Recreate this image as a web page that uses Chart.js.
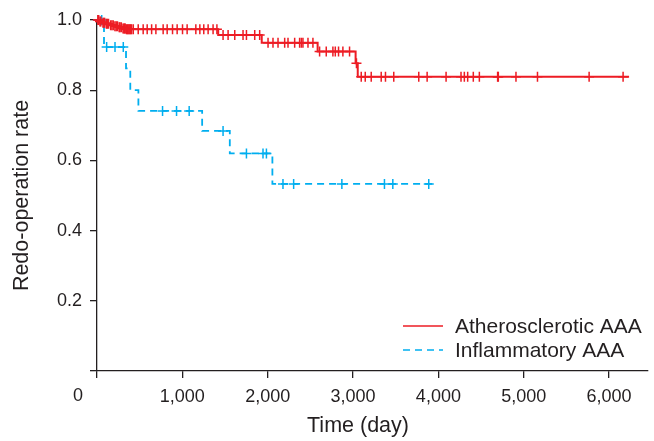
<!DOCTYPE html>
<html>
<head>
<meta charset="utf-8">
<script src="https://cdn.jsdelivr.net/npm/chart.js@4.4.1/dist/chart.umd.min.js"></script>
<style>
  html, body { margin: 0; padding: 0; background: #fff; }
</style>
</head>
<body>
<canvas id="km" width="654" height="441"></canvas>
<script>
// axis ticks
const xTicks = [0, 1000, 2000, 3000, 4000, 5000, 6000];
const yTicks = [0, 0.2, 0.4, 0.6, 0.8, 1.0];
const xTitle = 'Time (day)';
const yTitle = 'Redo-operation rate';

// Atherosclerotic AAA - step times (day) and survival after each step
const athDays = [0, 25, 60, 100, 150, 200, 250, 300, 340, 1420, 1930, 2585, 3030, 3055, 6234];
const athSurv = [1, 0.996, 0.992, 0.989, 0.985, 0.982, 0.979, 0.976, 0.974, 0.957, 0.935, 0.910, 0.877, 0.838, 0.838];
const athCensored = [
  10, 20, 35, 45, 70, 80, 90, 110, 120, 135, 160, 175, 190, 210, 225, 240, 260, 270, 285,
  305, 315, 325, 330, 345, 355, 365, 375, 385, 395, 405,
  425, 483, 541, 588, 640, 690, 775, 822, 885, 939, 1002, 1056, 1158, 1205, 1251, 1302, 1360, 1405,
  1477, 1536, 1614, 1711, 1751, 1848, 1906,
  2004, 2062, 2121, 2199, 2238, 2316, 2374, 2394, 2413, 2472, 2530,
  2608, 2686, 2764, 2792, 2830, 2881, 2959,
  3040,
  3096, 3143, 3213, 3330, 3380, 3477, 3770, 3868, 4090, 4265, 4304, 4343, 4409, 4480,
  4694, 4702, 4909, 5161, 5766, 6164
];

// Inflammatory AAA
const infDays = [0, 82, 340, 390, 485, 1232, 1556, 2055, 3973];
const infSurv = [1, 0.923, 0.862, 0.800, 0.741, 0.684, 0.620, 0.533, 0.533];
const infCensored = [15, 55, 113, 211, 308, 768, 932, 1080, 1477, 1751, 1945, 1985, 2179, 2304, 2869, 3368, 3466, 3887];

const red = '#ed1c24';
const blue = '#00aeef';
const ink = '#231f20';
const fontFamily = '"Liberation Sans", Arial, Helvetica, sans-serif';

function survAt(days, surv, t) {
  let s = surv[0];
  for (let i = 0; i < days.length; i++) {
    if (days[i] <= t) s = surv[i];
  }
  return s;
}

function steps(days, surv) {
  return days.map((d, i) => ({ x: d, y: surv[i] }));
}

function marks(cens, days, surv) {
  return cens.map(t => ({ x: t, y: survAt(days, surv, t) }));
}

// legend, x title and the shared "0" at the corner
const extras = {
  id: 'extras',
  afterDraw(chart) {
    const ctx = chart.ctx;
    const xs = chart.scales.x;
    ctx.save();
    ctx.fillStyle = ink;
    ctx.font = '18px ' + fontFamily;
    ctx.textAlign = 'center';
    ctx.textBaseline = 'middle';
    ctx.fillText('0', xs.left - 19, xs.top + 25);

    ctx.font = '21.5px ' + fontFamily;
    ctx.fillText(xTitle, 358, 426);

    const rows = [
      { label: chart.data.datasets[0].label, color: red, dash: [] },
      { label: chart.data.datasets[2].label, color: blue, dash: [7, 5] }
    ];
    ctx.font = '21px ' + fontFamily;
    ctx.textAlign = 'left';
    rows.forEach((r, i) => {
      const yy = 326 + i * 24;
      ctx.beginPath();
      ctx.setLineDash(r.dash);
      ctx.strokeStyle = r.color;
      ctx.lineWidth = 1.6;
      ctx.moveTo(403, yy);
      ctx.lineTo(443, yy);
      ctx.stroke();
      ctx.setLineDash([]);
      ctx.fillStyle = ink;
      ctx.fillText(r.label, 455, yy + 1);
    });
    ctx.restore();
  }
};

new Chart(document.getElementById('km'), {
  type: 'line',
  data: {
    datasets: [
      {
        label: 'Atherosclerotic AAA',
        data: steps(athDays, athSurv),
        borderColor: red,
        borderWidth: 2,
        stepped: true,
        pointRadius: 0,
        fill: false,
        clip: false
      },
      {
        label: 'athCensored',
        data: marks(athCensored, athDays, athSurv),
        showLine: false,
        pointStyle: 'cross',
        pointRadius: 5,
        pointBorderWidth: 1.5,
        borderColor: red,
        clip: false
      },
      {
        label: 'Inflammatory AAA',
        data: steps(infDays, infSurv),
        borderColor: blue,
        borderWidth: 1.8,
        borderDash: [7, 5],
        stepped: true,
        pointRadius: 0,
        fill: false,
        clip: false
      },
      {
        label: 'infCensored',
        data: marks(infCensored, infDays, infSurv),
        showLine: false,
        pointStyle: 'cross',
        pointRadius: 5,
        pointBorderWidth: 1.5,
        borderColor: blue,
        clip: false
      }
    ]
  },
  options: {
    responsive: false,
    animation: false,
    devicePixelRatio: 1,
    layout: { padding: { left: 0, top: 20, right: 5.5, bottom: 0 } },
    plugins: {
      legend: { display: false },
      tooltip: { enabled: false }
    },
    scales: {
      x: {
        type: 'linear',
        min: 0,
        max: 6450,
        afterBuildTicks: s => { s.ticks = xTicks.map(v => ({ value: v })); },
        afterFit: s => { s.height = 70; },
        grid: { drawOnChartArea: false, drawTicks: true, tickLength: 7, color: ink, lineWidth: 1.3 },
        border: { display: true, color: ink, width: 1.3 },
        ticks: {
          color: ink,
          font: { size: 18, family: fontFamily },
          padding: 8,
          maxRotation: 0,
          callback: v => v === 0 ? '' : v.toLocaleString('en-US')
        },
        title: { display: false }
      },
      y: {
        type: 'linear',
        min: 0,
        max: 1,
        afterBuildTicks: s => { s.ticks = yTicks.map(v => ({ value: v })); },
        afterFit: s => { s.width = 97; },
        grid: { drawOnChartArea: false, drawTicks: true, tickLength: 7, color: ink, lineWidth: 1.3 },
        border: { display: true, color: ink, width: 1.3 },
        ticks: {
          color: ink,
          font: { size: 18, family: fontFamily },
          padding: 8,
          callback: v => v === 0 ? '' : v.toFixed(1)
        },
        title: {
          display: true,
          text: yTitle,
          color: ink,
          font: { size: 21.5, family: fontFamily },
          padding: { top: 9, bottom: 0 }
        }
      }
    }
  },
  plugins: [extras]
});
</script>
</body>
</html>
